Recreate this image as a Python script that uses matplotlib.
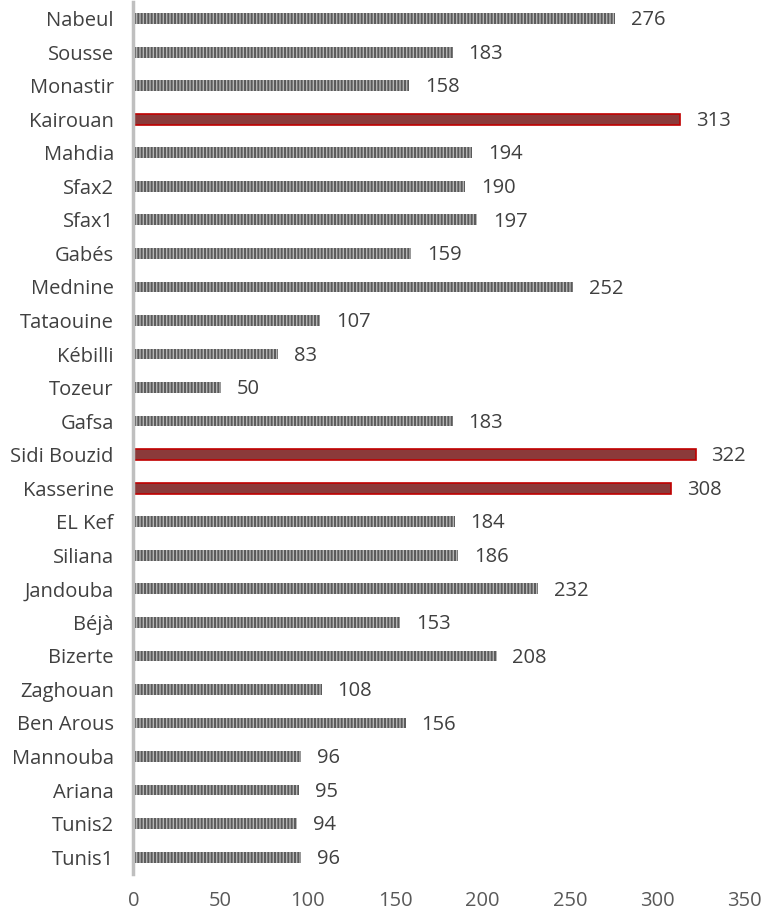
import matplotlib.pyplot as plt

plt.rcParams['font.family'] = ['Open Sans', 'DejaVu Sans']
plt.rcParams['hatch.linewidth'] = 1.4

regions = ["Nabeul", "Sousse", "Monastir", "Kairouan", "Mahdia", "Sfax2", "Sfax1",
           "Gabés", "Mednine", "Tataouine", "Kébilli", "Tozeur", "Gafsa",
           "Sidi Bouzid", "Kasserine", "EL Kef", "Siliana", "Jandouba", "Béjà",
           "Bizerte", "Zaghouan", "Ben Arous", "Mannouba", "Ariana", "Tunis2", "Tunis1"]
values = [276, 183, 158, 313, 194, 190, 197, 159, 252, 107, 83, 50, 183,
          322, 308, 184, 186, 232, 153, 208, 108, 156, 96, 95, 94, 96]
highlight = ["Kairouan", "Sidi Bouzid", "Kasserine"]
xticks = [0, 50, 100, 150, 200, 250, 300, 350]

fig = plt.figure(figsize=(7.66, 9.18), dpi=100)
ax = fig.add_axes([0.174, 0.048, 0.798, 0.95])

n = len(regions)
ypos = list(range(n))[::-1]
for y, name, v in zip(ypos, regions, values):
    if name in highlight:
        ax.barh(y, v, height=0.32, color="#8B3A3A", edgecolor="#C00000", linewidth=1.2)
    else:
        ax.barh(y, v, height=0.32, color="#B5B5B5", edgecolor="#5A5A5A",
                hatch="|||||", linewidth=0)
    ax.text(v + 9, y - 0.05, str(v), va="center", ha="left", fontsize=14.5, color="#404040")

ax.set_yticks(ypos)
ax.set_yticklabels(regions, fontsize=14.5, color="#404040")
ax.set_xticks(xticks)
ax.set_xticklabels([str(t) for t in xticks], fontsize=14.5, color="#595959")
ax.set_xlim(0, 350)
ax.set_ylim(-0.5, n - 0.5)
ax.tick_params(axis="both", length=0)
ax.tick_params(axis="x", pad=12)
ax.tick_params(axis="y", pad=14)
for s in ["top", "right", "bottom"]:
    ax.spines[s].set_visible(False)
ax.spines["left"].set_color("#BFBFBF")
ax.spines["left"].set_linewidth(2.5)

fig.savefig("out.png", dpi=100)
plt.close()
